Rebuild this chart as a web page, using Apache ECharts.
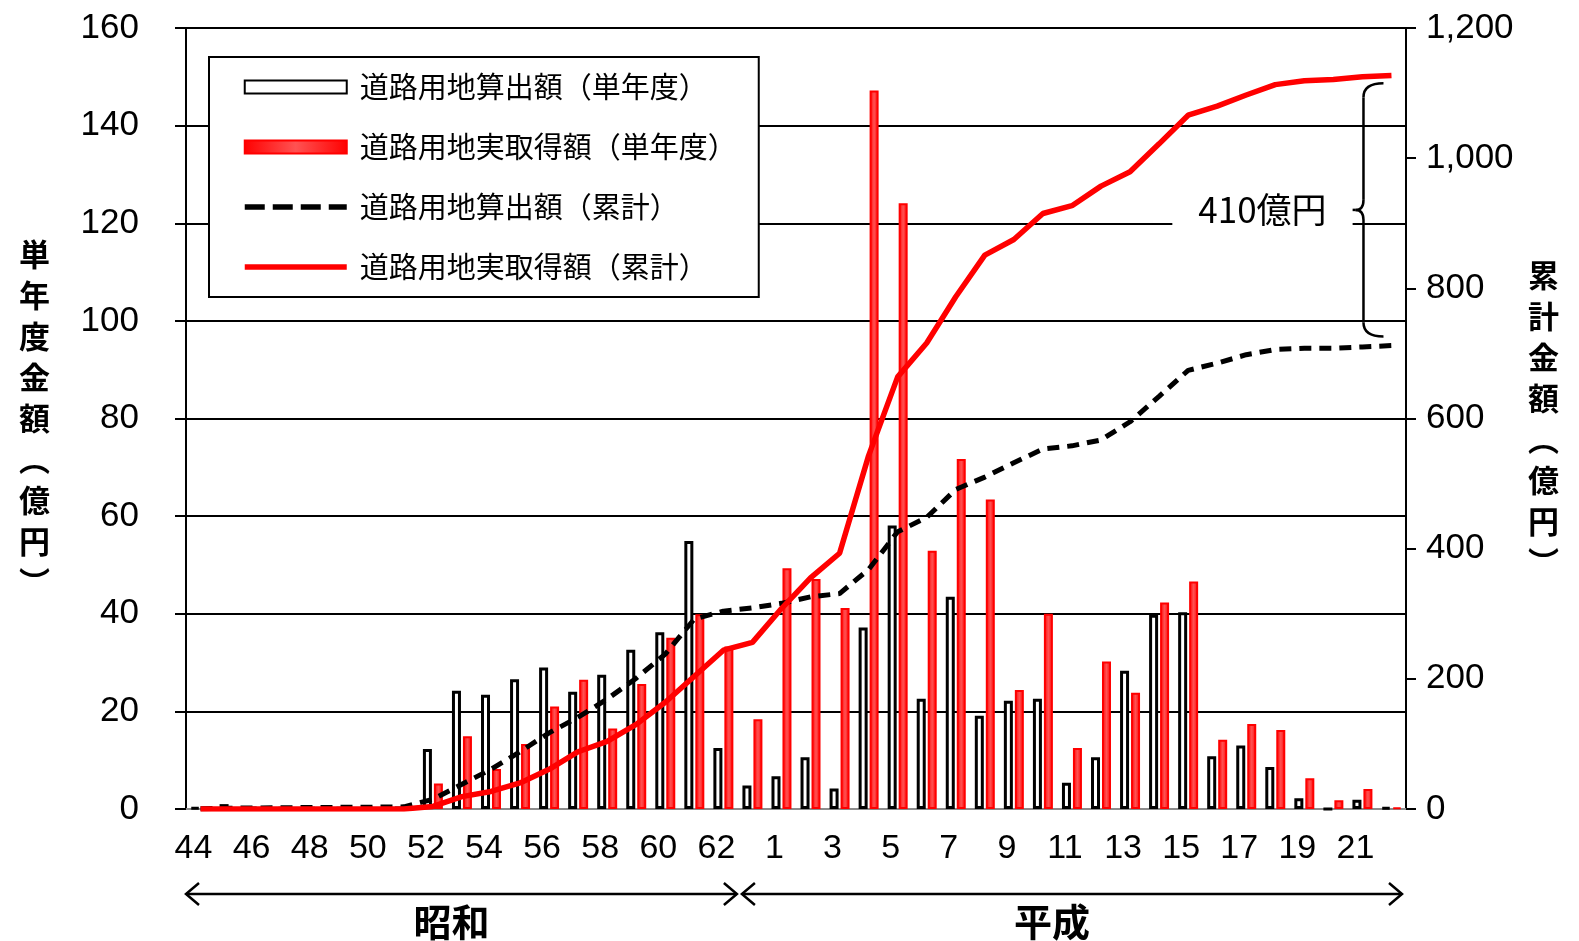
<!DOCTYPE html>
<html><head><meta charset="utf-8">
<script src="https://cdn.jsdelivr.net/npm/echarts@6/dist/echarts.min.js"></script>
<style>html,body{margin:0;padding:0;background:#fff}#c{width:1579px;height:941px}</style>
</head><body><div id="c"></div>
<script>
// Fiscal years: Showa 44–63, Heisei 1–22
const categories = ['44','45','46','47','48','49','50','51','52','53','54','55','56','57','58','59','60','61','62','63',
  '1','2','3','4','5','6','7','8','9','10','11','12','13','14','15','16','17','18','19','20','21','22'];
// 道路用地算出額（単年度） 億円
const calcYear = [0.3,1.0,0.4,0.3,0.3,0.3,0.3,0.4,12.3,24.2,23.4,26.6,29.0,24.0,27.5,32.6,36.2,54.9,12.5,4.8,
  6.7,10.6,4.2,37.2,58.1,22.6,43.5,19.1,22.2,22.6,5.4,10.6,28.3,39.8,40.3,10.8,13.0,8.6,2.2,0,1.9,0.3];
// 道路用地実取得額（単年度） 億円
const acqYear = [0,0,0,0,0,0,0,0,5.2,14.9,8.2,13.3,21.0,26.5,16.5,25.6,35.1,39.9,33.3,18.4,
  49.3,47.1,41.2,147.2,124.1,52.9,71.7,63.4,24.4,40.0,12.5,30.2,23.8,42.3,46.6,14.2,17.4,16.2,6.3,1.8,4.1,0.3];
// 道路用地算出額（累計） 億円
const calcCum = [0.3,1.3,1.7,2.0,2.3,2.6,2.9,3.3,15,38,61,88,117,141,169,201,238,292,304,309,
  316,326,331,368,426,448,491,510,532,553,558,567,595,634,674,685,698,706,708,708,710,712];
// 道路用地実取得額（累計） 億円
const acqCum = [0,0,0,0,0,0,0,0,4,19,27,40,61,88,104,130,164,204,244,256,
  308,355,393,543,664,716,787,851,875,915,927,957,979,1022,1066,1080,1097,1113,1119,1121,1125,1127];
const leftTicks = {min:0, max:160, interval:20};
const rightTicks = {min:0, max:1200, interval:200};
const seriesNames = ['道路用地算出額（単年度）','道路用地実取得額（単年度）','道路用地算出額（累計）','道路用地実取得額（累計）'];
const gapLabel = '410億円';
const braceRange = [1115, 726];
const eraLabels = ['昭和','平成'];

const JP = '"Noto Sans CJK JP", sans-serif';
const NUM = '"Liberation Sans", Arial, sans-serif';
const chart = echarts.init(document.getElementById('c'));

const redFill = new echarts.graphic.LinearGradient(0,0,1,0,[
  {offset:0,color:'#ff0000'},{offset:0.5,color:'#ff5252'},{offset:1,color:'#ff0000'}]);
const hidden = {color:'rgba(0,0,0,0)', borderColor:'rgba(0,0,0,0)', borderWidth:0};

chart.setOption({
  animation:false,
  grid:{left:186, right:173, top:28, bottom:132},
  legend:{
    orient:'vertical', left:209, top:57, padding:[15,22,15,33], itemGap:30,
    itemWidth:102, itemHeight:13, backgroundColor:'#fff', borderColor:'#000', borderWidth:2,
    textStyle:{fontSize:29, fontFamily:JP, color:'#000', lineHeight:30, padding:[0,0,0,8]},
    data:[{name:seriesNames[0], icon:'rect'},{name:seriesNames[1], icon:'rect'},
      {name:seriesNames[2], itemStyle:hidden, lineStyle:{color:'#000', width:5.5, type:[20,8]}},
      {name:seriesNames[3], itemStyle:hidden, lineStyle:{color:'#ff0000', width:5.5}}]
  },
  xAxis:{
    type:'category', data:categories, boundaryGap:true,
    axisLine:{lineStyle:{color:'#8c8c8c', width:2}},
    axisTick:{interval:0, length:9, lineStyle:{color:'#8c8c8c', width:2}},
    axisLabel:{interval:1, fontSize:34, fontFamily:NUM, color:'#000', margin:23, padding:[0,14,0,0]}
  },
  yAxis:[{
    type:'value', min:leftTicks.min, max:leftTicks.max, interval:leftTicks.interval,
    axisLine:{show:true, lineStyle:{color:'#000', width:2}},
    axisTick:{show:true, length:11, lineStyle:{color:'#000', width:2}},
    axisLabel:{fontSize:35, fontFamily:NUM, color:'#000', margin:47},
    splitLine:{lineStyle:{color:'#000', width:2}},
    name:'単\n年\n度\n金\n額\n︵\n億\n円\n︶', nameLocation:'middle', nameRotate:0, nameGap:136,
    nameTextStyle:{fontSize:31, lineHeight:41, fontFamily:JP, color:'#000', fontWeight:'bold'}
  },{
    type:'value', position:'right', min:rightTicks.min, max:rightTicks.max, interval:rightTicks.interval,
    axisLine:{show:true, lineStyle:{color:'#000', width:2}},
    axisTick:{show:true, length:10, lineStyle:{color:'#000', width:2}},
    axisLabel:{fontSize:35, fontFamily:NUM, color:'#000', margin:20,
      formatter:v => String(v).replace(/(\d)(\d{3})$/,'$1,$2')},
    splitLine:{show:false},
    name:'累\n計\n金\n額\n︵\n億\n円\n︶', nameLocation:'middle', nameRotate:0, nameGap:122,
    nameTextStyle:{fontSize:31, lineHeight:41, fontFamily:JP, color:'#000', fontWeight:'bold'}
  }],
  series:[
    {name:seriesNames[0], type:'bar', data:calcYear, barWidth:9, barGap:'22%',
      itemStyle:{color:'#fff', borderColor:'#000', borderWidth:3}},
    {name:seriesNames[1], type:'bar', data:acqYear, barWidth:9,
      itemStyle:{color:redFill, borderColor:'#ff0000', borderWidth:2}},
    {name:seriesNames[2], type:'line', yAxisIndex:1, data:calcCum, symbol:'none', z:5,
      lineStyle:{color:'#000', width:5, type:[12,8]}, itemStyle:{color:'#000'}},
    {name:seriesNames[3], type:'line', yAxisIndex:1, data:acqCum, symbol:'none', z:6,
      lineStyle:{color:'#ff0000', width:5.5}, itemStyle:{color:'#ff0000'}}
  ]
});

// annotations positioned through the chart's own scales
const cx = i => chart.convertToPixel({xAxisIndex:0}, i);
const py = v => chart.convertToPixel({yAxisIndex:1}, v);
const band = cx(1) - cx(0);
const yZero = chart.convertToPixel({yAxisIndex:0}, 0);
const ay = yZero + 85;
const sL = cx(0) - band/2, sR = cx(19) - band/2 - 1;
const hL = cx(19) - band/2 + 4, hR = cx(categories.length-1) + band/2 - 4;
const head = 13, hh = 11;
const ls = () => ({stroke:'#000', lineWidth:2.5, fill:null});
const xb = cx(categories.length-1) - 28;
const yt = py(braceRange[0]), yb = py(braceRange[1]), ym = (yt+yb)/2;

chart.setOption({graphic:[
  {type:'line', shape:{x1:sL, y1:ay, x2:sR, y2:ay}, style:ls()},
  {type:'polyline', shape:{points:[[sL+head,ay-hh],[sL,ay],[sL+head,ay+hh]]}, style:ls()},
  {type:'polyline', shape:{points:[[sR-head,ay-hh],[sR,ay],[sR-head,ay+hh]]}, style:ls()},
  {type:'line', shape:{x1:hL, y1:ay, x2:hR, y2:ay}, style:ls()},
  {type:'polyline', shape:{points:[[hL+head,ay-hh],[hL,ay],[hL+head,ay+hh]]}, style:ls()},
  {type:'polyline', shape:{points:[[hR-head,ay-hh],[hR,ay],[hR-head,ay+hh]]}, style:ls()},
  {type:'text', x:(sL+sR)/2 - 10, y:yZero+113, style:{text:eraLabels[0], font:'bold 38px '+JP, fill:'#000', align:'center', verticalAlign:'middle'}},
  {type:'text', x:(hL+hR)/2 - 20, y:yZero+113, style:{text:eraLabels[1], font:'bold 38px '+JP, fill:'#000', align:'center', verticalAlign:'middle'}},
  // brace "{"
  {type:'bezierCurve', z:100, shape:{x1:xb+20, y1:yt, cpx1:xb, cpy1:yt, x2:xb, y2:yt+14}, style:ls()},
  {type:'line', z:100, shape:{x1:xb, y1:yt+14, x2:xb, y2:ym-10}, style:ls()},
  {type:'bezierCurve', z:100, shape:{x1:xb, y1:ym-10, cpx1:xb, cpy1:ym, x2:xb-8, y2:ym}, style:ls()},
  {type:'bezierCurve', z:100, shape:{x1:xb-8, y1:ym, cpx1:xb, cpy1:ym, x2:xb, y2:ym+10}, style:ls()},
  {type:'line', z:100, shape:{x1:xb, y1:ym+10, x2:xb, y2:yb-14}, style:ls()},
  {type:'bezierCurve', z:100, shape:{x1:xb, y1:yb-14, cpx1:xb, cpy1:yb, x2:xb+20, y2:yb}, style:ls()},
  {type:'line', z:100, shape:{x1:xb-20, y1:ym, x2:xb-8, y2:ym}, style:ls()},
  {type:'text', x:xb-101, y:ym, z:100, style:{text:gapLabel, font:'35px '+JP, fill:'#000', align:'center', verticalAlign:'middle',
    backgroundColor:'#fff', padding:[2,26,8,26]}}
]});
</script></body></html>
